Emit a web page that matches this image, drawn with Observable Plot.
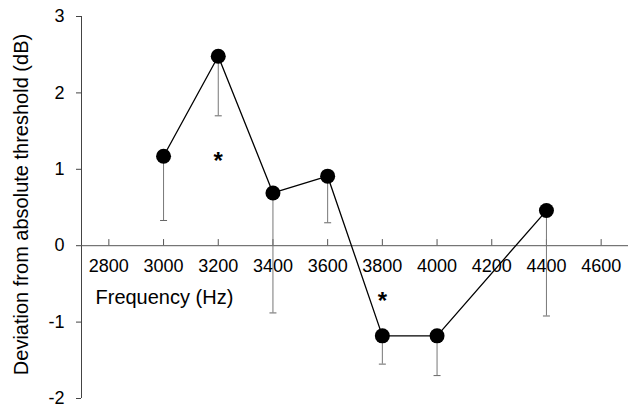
<!DOCTYPE html>
<html>
<head>
<meta charset="utf-8">
<script src="https://cdn.jsdelivr.net/npm/d3@7"></script>
<script src="https://cdn.jsdelivr.net/npm/@observablehq/plot@0.6"></script>
<style>
  html, body { margin: 0; padding: 0; background: #fff; }
  #chart svg { display: block; }
</style>
</head>
<body>
<div id="chart"></div>
<script>
// Data
const frequencies = [3000, 3200, 3400, 3600, 3800, 4000, 4400];
const deviations  = [1.17, 2.48, 0.69, 0.91, -1.18, -1.18, 0.46];
const errorLower  = [0.33, 1.70, -0.88, 0.30, -1.55, -1.70, -0.92];
const sigFreqs    = [3200, 3800];
const sigY        = [1.18, -0.65];
const xTicks      = [2800, 3000, 3200, 3400, 3600, 3800, 4000, 4200, 4400, 4600];
const yTicks      = [-2, -1, 0, 1, 2, 3];
const xDomain     = [2700, 4700];
const yDomain     = [-2, 3];
const xLabel      = "Frequency (Hz)";
const yLabel      = "Deviation from absolute threshold (dB)";

const data = frequencies.map((f, i) => ({f, v: deviations[i], lo: errorLower[i]}));
const sig = sigFreqs.map((f, i) => ({f, y: sigY[i]}));

const capSymbol = {
  draw(ctx) { ctx.moveTo(-3.5, 0); ctx.lineTo(3.5, 0); }
};

const font = "'Liberation Sans', Arial, Helvetica, sans-serif";

const chart = Plot.plot({
  width: 633,
  height: 408,
  marginLeft: 81,
  marginRight: 5,
  marginTop: 16,
  marginBottom: 10,
  style: {fontFamily: font, background: "#fff", color: "#000"},
  x: {domain: xDomain, axis: null},
  y: {domain: yDomain, axis: null},
  marks: [
    // y axis
    Plot.ruleX([xDomain[0]], {stroke: "#444", strokeWidth: 1}),
    Plot.axisY({ticks: yTicks, tickSize: 5, tickPadding: 12, tickFormat: d => String(d),
      fontSize: 18, stroke: "#444", fill: "#000", label: null}),
    // x axis at y = 0
    Plot.ruleY([0], {stroke: "#555", strokeWidth: 1}),
    Plot.ruleX(xTicks, {x: d => d, y1: 0, y2: 0.08, stroke: "#555", strokeWidth: 1}),
    Plot.text(xTicks, {x: d => d, y: 0, dy: 21, text: d => String(d), fontSize: 18, fill: "#000"}),
    Plot.text([xLabel], {frameAnchor: "top-left", dx: 14, dy: 281, text: d => d,
      textAnchor: "start", lineAnchor: "middle", fontSize: 20, fill: "#000"}),
    Plot.text([yLabel], {frameAnchor: "left", dx: -60, dy: -3, text: d => d, rotate: -90,
      textAnchor: "middle", lineAnchor: "middle", fontSize: 20, fill: "#000"}),
    // error bars
    Plot.ruleX(data, {x: "f", y1: "v", y2: "lo", stroke: "#777", strokeWidth: 1}),
    Plot.dot(data, {x: "f", y: "lo", symbol: capSymbol, stroke: "#666", strokeWidth: 1, fill: "none"}),
    // line and markers
    Plot.line(data, {x: "f", y: "v", stroke: "#000", strokeWidth: 1.3}),
    Plot.dot(data, {x: "f", y: "v", r: 7.5, fill: "#000", stroke: "none"}),
    // significance asterisks
    Plot.text(sig, {x: "f", y: "y", text: () => "*", fontSize: 24, fontWeight: "bold", dy: 6, fill: "#000"})
  ]
});

document.getElementById("chart").appendChild(chart);
</script>
</body>
</html>
